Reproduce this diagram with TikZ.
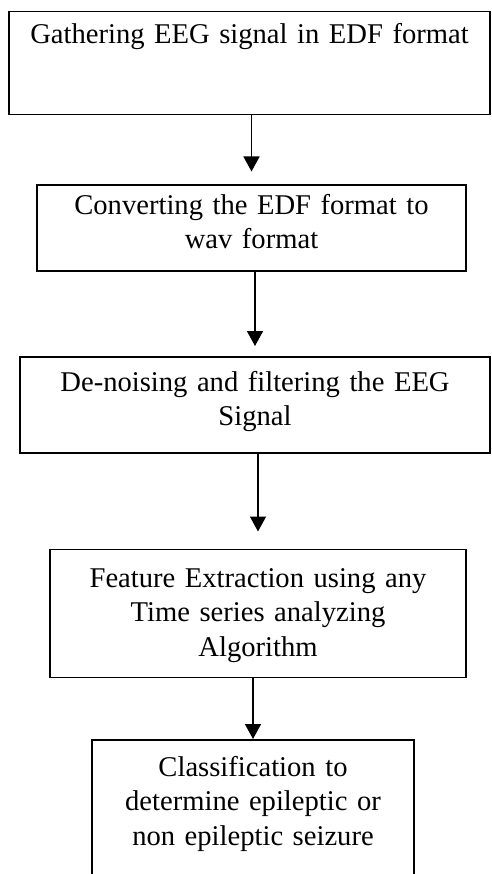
\documentclass[tikz,border=0pt]{standalone}
\usepackage{fontspec}
\setmainfont{Liberation Serif}
\usepackage{tikz}
\usetikzlibrary{arrows.meta,positioning}
\tikzstyle{stage}=[draw,line width=1.5pt,align=center,inner xsep=0pt,inner ysep=0pt,
  font=\fontsize{28.6}{34.5}\selectfont]
\tikzstyle{flow}=[draw,line width=1.6pt,-{Triangle[length=15pt,width=16pt]}]

\begin{document}
\begin{tikzpicture}
  \useasboundingbox (0,0) rectangle (491pt,-874pt);
  \clip (0,0) rectangle (491pt,-874pt);

  \node[stage,anchor=north,text width=481pt,text height=32pt,text depth=71pt]
        (gather) at (249.5pt,-11pt) {Gathering EEG signal in EDF format};
  \node[stage,text width=429pt,text height=29pt,text depth=57pt]
        (convert) [below=69pt of gather,xshift=2pt] {Converting the EDF format to\\wav format};
  \node[stage,text width=470pt,text height=34.5pt,text depth=61.5pt]
        (denoise) [below=84pt of convert,xshift=3.5pt] {De-noising and filtering the EEG\\Signal};
  \node[stage,text width=416pt,text height=38pt,text depth=90pt]
        (feature) [below=95pt of denoise,xshift=3pt] {Feature Extraction using any\\Time series analyzing\\Algorithm};
  \node[stage,text width=322pt,text height=36.5pt,text depth=130.5pt]
        (classify) [below=61pt of feature,xshift=-5pt] {Classification to\\determine epileptic or\\non epileptic seizure};

  \path[flow,shorten >=13pt] (gather.south -| convert) -- (convert);
  \path[flow,shorten >=10pt] (convert.south -| denoise) -- (denoise);
  \path[flow,shorten >=17pt] (denoise.south -| feature) -- (feature);
  \path[flow] (feature.south -| classify) -- (classify);
\end{tikzpicture}
\end{document}
